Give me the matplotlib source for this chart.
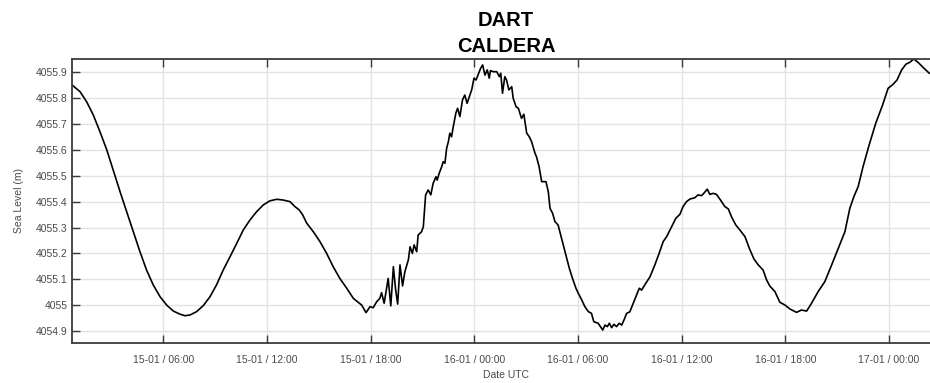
import pandas as pd
import matplotlib
matplotlib.use('Agg')
import matplotlib.pyplot as plt
import matplotlib.dates as mdates

# Serie de nivel del mar, boya DART frente a Caldera (hora UTC)
times = [
    '15 00:43', '15 01:11', '15 01:34', '15 01:57', '15 02:20', '15 02:44', '15 03:06', '15 03:30',
    '15 03:53', '15 04:16', '15 04:39', '15 05:02', '15 05:25', '15 05:49', '15 06:12', '15 06:35',
    '15 06:58', '15 07:15', '15 07:33', '15 07:56', '15 08:19', '15 08:42', '15 09:05', '15 09:28',
    '15 09:52', '15 10:15', '15 10:38', '15 11:01', '15 11:24', '15 11:47', '15 12:10', '15 12:34',
    '15 12:57', '15 13:20', '15 13:37', '15 13:52', '15 14:04', '15 14:18', '15 14:41', '15 15:04',
    '15 15:27', '15 15:50', '15 16:13', '15 16:37', '15 17:00', '15 17:29', '15 17:44', '15 17:58',
    '15 18:09', '15 18:21', '15 18:32', '15 18:38', '15 18:47', '15 19:01', '15 19:10', '15 19:19',
    '15 19:27', '15 19:34', '15 19:42', '15 19:51', '15 19:59', '15 20:11', '15 20:17', '15 20:25',
    '15 20:31', '15 20:40', '15 20:45', '15 20:57', '15 21:03', '15 21:11', '15 21:20', '15 21:29',
    '15 21:37', '15 21:47', '15 21:51', '15 21:58', '15 22:07', '15 22:12', '15 22:18', '15 22:24',
    '15 22:30', '15 22:35', '15 22:41', '15 22:47', '15 22:56', '15 23:02', '15 23:10', '15 23:19',
    '15 23:27', '15 23:35', '15 23:45', '15 23:51', '15 23:59', '16 00:06', '16 00:14', '16 00:22',
    '16 00:29', '16 00:37', '16 00:45', '16 00:52', '16 00:56', '16 01:06', '16 01:18', '16 01:27',
    '16 01:32', '16 01:38', '16 01:46', '16 01:52', '16 02:00', '16 02:10', '16 02:15', '16 02:25',
    '16 02:33', '16 02:44', '16 02:52', '16 03:02', '16 03:11', '16 03:19', '16 03:31', '16 03:36',
    '16 03:45', '16 03:54', '16 04:09', '16 04:17', '16 04:23', '16 04:32', '16 04:40', '16 04:51',
    '16 05:03', '16 05:18', '16 05:30', '16 05:41', '16 05:53', '16 06:01', '16 06:13', '16 06:24',
    '16 06:36', '16 06:47', '16 06:55', '16 07:10', '16 07:26', '16 07:34', '16 07:42', '16 07:49',
    '16 07:57', '16 08:05', '16 08:14', '16 08:23', '16 08:32', '16 08:40', '16 08:49', '16 09:00',
    '16 09:12', '16 09:24', '16 09:33', '16 09:41', '16 09:52', '16 10:10', '16 10:27', '16 10:42',
    '16 10:56', '16 11:08', '16 11:25', '16 11:40', '16 11:54', '16 12:05', '16 12:17', '16 12:29',
    '16 12:46', '16 12:57', '16 13:09', '16 13:17', '16 13:29', '16 13:38', '16 13:50', '16 14:01',
    '16 14:15', '16 14:30', '16 14:42', '16 14:53', '16 15:08', '16 15:22', '16 15:40', '16 15:55',
    '16 16:11', '16 16:26', '16 16:43', '16 16:55', '16 17:06', '16 17:24', '16 17:41', '16 17:59',
    '16 18:16', '16 18:39', '16 18:56', '16 19:14', '16 19:31', '16 19:54', '16 20:17', '16 20:41',
    '16 21:04', '16 21:27', '16 21:44', '16 21:58', '16 22:13', '16 22:30', '16 22:51', '16 23:14',
    '16 23:38', '16 23:57', '17 00:12', '17 00:28', '17 00:44', '17 00:59', '17 01:12', '17 01:26',
    '17 01:41', '17 01:59', '17 02:20',
]

sea_level = [
    4055.850, 4055.824, 4055.785, 4055.734, 4055.670, 4055.599, 4055.522, 4055.438,
    4055.361, 4055.284, 4055.207, 4055.136, 4055.079, 4055.033, 4055.001, 4054.978,
    4054.966, 4054.960, 4054.963, 4054.976, 4054.999, 4055.033, 4055.079, 4055.136,
    4055.188, 4055.239, 4055.291, 4055.329, 4055.361, 4055.387, 4055.403, 4055.409,
    4055.406, 4055.400, 4055.381, 4055.368, 4055.349, 4055.317, 4055.284, 4055.246,
    4055.201, 4055.149, 4055.104, 4055.066, 4055.027, 4055.001, 4054.972, 4054.995,
    4054.991, 4055.014, 4055.027, 4055.049, 4055.008, 4055.104, 4054.998, 4055.149,
    4055.059, 4055.005, 4055.156, 4055.075, 4055.130, 4055.175, 4055.226, 4055.200,
    4055.233, 4055.207, 4055.271, 4055.284, 4055.303, 4055.426, 4055.445, 4055.426,
    4055.470, 4055.496, 4055.483, 4055.509, 4055.535, 4055.554, 4055.548, 4055.606,
    4055.631, 4055.664, 4055.650, 4055.689, 4055.741, 4055.760, 4055.728, 4055.792,
    4055.811, 4055.779, 4055.811, 4055.831, 4055.876, 4055.869, 4055.891, 4055.914,
    4055.927, 4055.888, 4055.908, 4055.876, 4055.905, 4055.901, 4055.901, 4055.882,
    4055.895, 4055.818, 4055.882, 4055.869, 4055.831, 4055.843, 4055.799, 4055.766,
    4055.760, 4055.721, 4055.737, 4055.664, 4055.650, 4055.631, 4055.586, 4055.573,
    4055.535, 4055.477, 4055.477, 4055.438, 4055.374, 4055.355, 4055.323, 4055.310,
    4055.259, 4055.194, 4055.143, 4055.104, 4055.066, 4055.047, 4055.021, 4054.995,
    4054.976, 4054.969, 4054.937, 4054.931, 4054.905, 4054.924, 4054.918, 4054.931,
    4054.914, 4054.927, 4054.918, 4054.931, 4054.924, 4054.944, 4054.969, 4054.975,
    4055.008, 4055.040, 4055.066, 4055.059, 4055.079, 4055.110, 4055.156, 4055.201,
    4055.246, 4055.265, 4055.303, 4055.336, 4055.351, 4055.381, 4055.400, 4055.410,
    4055.415, 4055.426, 4055.423, 4055.432, 4055.448, 4055.428, 4055.432, 4055.428,
    4055.406, 4055.381, 4055.372, 4055.342, 4055.310, 4055.291, 4055.265, 4055.220,
    4055.179, 4055.156, 4055.136, 4055.098, 4055.075, 4055.053, 4055.012, 4055.001,
    4054.986, 4054.973, 4054.982, 4054.978, 4055.008, 4055.053, 4055.091, 4055.156,
    4055.220, 4055.284, 4055.374, 4055.419, 4055.458, 4055.535, 4055.618, 4055.702,
    4055.773, 4055.837, 4055.850, 4055.869, 4055.908, 4055.930, 4055.937, 4055.950,
    4055.937, 4055.917, 4055.895,
]

y_ticks = [4054.9, 4055, 4055.1, 4055.2, 4055.3, 4055.4, 4055.5, 4055.6, 4055.7, 4055.8, 4055.9]
y_tick_labels = ['4054.9', '4055', '4055.1', '4055.2', '4055.3', '4055.4',
                 '4055.5', '4055.6', '4055.7', '4055.8', '4055.9']

t = pd.to_datetime(['2022-01-' + s for s in times])
df = pd.DataFrame({'time': t, 'level': sea_level})

plt.rcParams['font.family'] = ['Liberation Sans', 'DejaVu Sans']

fig = plt.figure(figsize=(9.3, 3.83), dpi=100)
# el eje se prolonga un poco más allá del borde derecho de la figura
ax = fig.add_axes([0.0774, 0.1052, 0.9333, 0.7408])

ax.plot(df['time'], df['level'], color='black', linewidth=1.2)

ax.set_xlim(pd.Timestamp('2022-01-15 00:43'), pd.Timestamp('2022-01-17 02:57'))
ax.set_ylim(4054.856, 4055.95)

ax.xaxis.set_major_locator(mdates.HourLocator(byhour=[0, 6, 12, 18]))
ax.xaxis.set_major_formatter(mdates.DateFormatter('%d-%m / %H:%M'))
ax.set_yticks(y_ticks)
ax.set_yticklabels(y_tick_labels)

ax.grid(True, color='#e3e3e3', linewidth=1.0)
ax.set_axisbelow(True)

for side in ['left', 'bottom', 'top']:
    ax.spines[side].set_color('#3a3a3a')
    ax.spines[side].set_linewidth(1.3)
ax.spines['right'].set_visible(False)

ax.tick_params(axis='x', direction='in', length=6, width=1.0, color='#3a3a3a',
               top=True, labelsize=7.5, labelcolor='#4a4a4a', pad=8.5)
ax.tick_params(axis='y', direction='in', length=6, width=1.0, color='#3a3a3a',
               right=False, labelsize=7.5, labelcolor='#4a4a4a', pad=3)

ax.set_xlabel('Date UTC', fontsize=7.5, color='#4a4a4a', labelpad=4)
ax.set_ylabel('Sea Level (m)', fontsize=7.5, color='#4a4a4a', labelpad=9)
ax.set_title('DART\nCALDERA', fontsize=14.5, fontweight='bold', linespacing=1.45, pad=5)

fig.savefig('out.png', dpi=100)
